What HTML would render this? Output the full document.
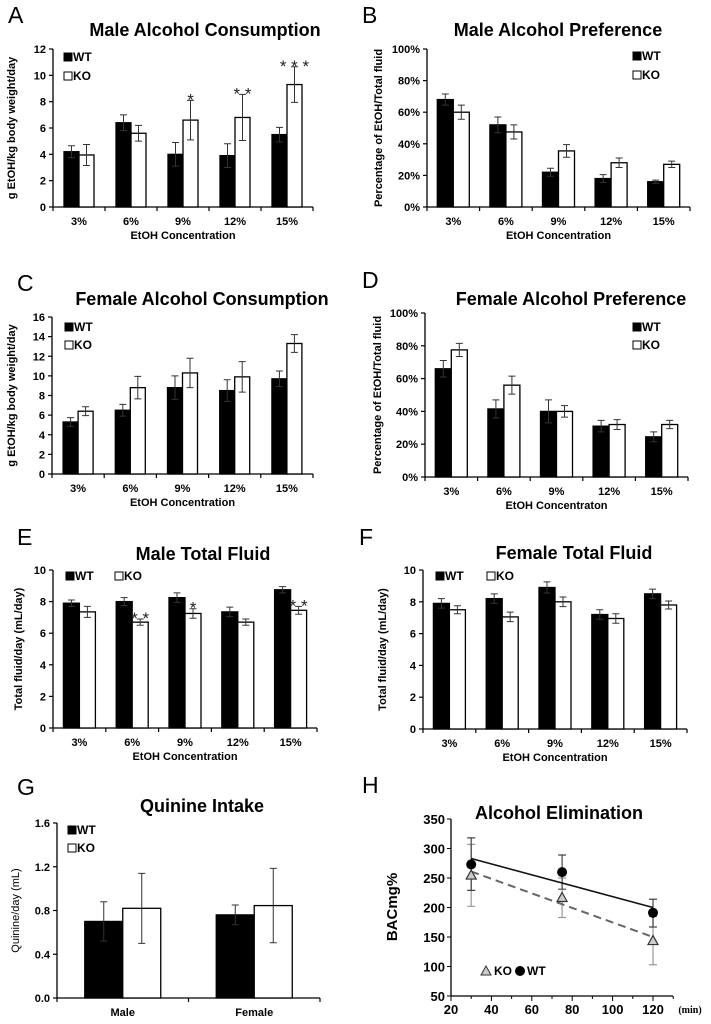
<!DOCTYPE html>
<html><head><meta charset="utf-8"><style>
html,body{margin:0;padding:0;background:#fff;}
svg{display:block;font-family:"Liberation Sans",Arial,sans-serif;}
</style></head><body>
<svg id="fig" width="711" height="1024" viewBox="0 0 711 1024" xmlns="http://www.w3.org/2000/svg"></svg>
<script>
// ---- data ----
const pctCats = ["3%","6%","9%","12%","15%"];
const aWT = [4.2,6.4,4.0,3.9,5.5];
const aKO = [3.95,5.6,6.6,6.8,9.3];
const aWTErr = [0.45,0.6,0.9,0.9,0.55];
const aKOErr = [0.8,0.6,1.5,1.75,1.35];
const aStars = ["","","*","**","***"];
const aTicks = ["0","2","4","6","8","10","12"];

const bWT = [68,52,22,18,16];
const bKO = [60,47.5,35.5,28,27];
const bWTErr = [3.5,5,2.5,2.5,1];
const bKOErr = [4.5,4.5,4,3,2];
const pctTicks = ["0%","20%","40%","60%","80%","100%"];

const cWT = [5.3,6.5,8.8,8.5,9.7];
const cKO = [6.4,8.8,10.3,9.9,13.3];
const cWTErr = [0.45,0.6,1.2,1.1,0.8];
const cKOErr = [0.45,1.15,1.5,1.55,0.9];
const cTicks = ["0","2","4","6","8","10","12","14","16"];

const dWT = [66,41.5,40,31,24.5];
const dKO = [77.5,56,40,32,32];
const dWTErr = [5,5.5,7,3.5,3];
const dKOErr = [4,5.5,3.5,3,2.5];

const eWT = [7.9,8.0,8.25,7.35,8.75];
const eKO = [7.35,6.7,7.25,6.7,7.45];
const eWTErr = [0.2,0.25,0.3,0.3,0.2];
const eKOErr = [0.35,0.2,0.3,0.2,0.25];
const eStars = ["","**","*","","**"];
const fluidTicks = ["0","2","4","6","8","10"];

const fWT = [7.9,8.2,8.9,7.2,8.5];
const fKO = [7.5,7.05,8.0,6.95,7.8];
const fWTErr = [0.3,0.3,0.35,0.3,0.3];
const fKOErr = [0.25,0.3,0.3,0.3,0.25];

const gCats = ["Male","Female"];
const gWT = [0.70,0.76];
const gKO = [0.82,0.845];
const gWTErr = [0.18,0.09];
const gKOErr = [0.32,0.34];
const gTicks = ["0.0","0.4","0.8","1.2","1.6"];

const hTimes = [30,75,120];
const hWT = [273,260,191];
const hKO = [255,217,144];
const hWTLo = [229,231,167];
const hWTHi = [318,289,214];
const hKOLo = [202,183,103];
const hKOHi = [307,250,185];
const hWTFitX = [30,120];
const hWTFitY = [283,200];
const hKOFitX = [30,120];
const hKOFitY = [261,150];
const hXTicks = [20,40,60,80,100,120];
const hYTicks = [50,100,150,200,250,300,350];

// ---- helpers ----
const NS = "http://www.w3.org/2000/svg";
const svg = document.getElementById("fig");
function el(tag, attrs, parent, txt){
  const e = document.createElementNS(NS, tag);
  for (const k in attrs) e.setAttribute(k, attrs[k]);
  if (txt !== undefined) e.textContent = txt;
  (parent||svg).appendChild(e);
  return e;
}
function text(x,y,s,size,opts,parent){
  const o = Object.assign({x:x,y:y,"font-size":size,"text-anchor":"middle","font-weight":"bold",fill:"#000"}, opts||{});
  return el("text", o, parent, s);
}

function barChart(p){
  const g = el("g", {});
  
  
  const n = p.cats.length;
  const ymax = parseFloat(p.ticks[p.ticks.length-1]);
  const ys = v => p.y0 - (v/ymax)*(p.y0-p.y1);
  const gw = (p.x1-p.x0)/n;
  const L = text(p.letterX, p.letterY, p.letter, 23, {"font-weight":"normal","text-anchor":"start"}, g);
  
  
  const T = text(p.titleX, p.titleY, p.title, 18, {}, g);
  
  
  const ya = el("line",{x1:p.x0,y1:p.y1,x2:p.x0,y2:p.y0,stroke:"#000","stroke-width":1.3},g);
  
  
  p.ticks.forEach((t,i)=>{
    const v = parseFloat(t);
    const y = ys(v);
    el("line",{x1:p.x0-4,y1:y,x2:p.x0,y2:y,stroke:"#000","stroke-width":1.2},g);
    const tl = text(p.x0-7, y+4, t, 11, {"text-anchor":"end"}, g);
    
    
  });
  const xa = el("line",{x1:p.x0,y1:p.y0,x2:p.x1,y2:p.y0,stroke:"#000","stroke-width":1.3},g);
  
  
  for(let i=0;i<=n;i++){
    const x = p.x0+gw*i;
    el("line",{x1:x,y1:p.y0,x2:x,y2:p.y0+4,stroke:"#000","stroke-width":1.2},g);
  }
  const yt = text(p.ytX, (p.y0+p.y1)/2, p.ytitle, p.ytSize||11, {transform:`rotate(-90 ${p.ytX} ${(p.y0+p.y1)/2})`, "font-weight":p.ytWeight||"bold"}, g);
  
  
  if (p.xtitle){
    const xt = text((p.x0+p.x1)/2, p.y0+32, p.xtitle, 11, {}, g);
    
    
  }
  const bw = p.barW;
  for(let i=0;i<n;i++){
    const cx = p.x0+gw*(i+0.5);
    const cl = text(cx, p.y0+18, p.cats[i], 11, {}, g);
    
    
    [[p.wt[i],p.wtErr[i],cx-bw,"#000","wt"],[p.ko[i],p.koErr[i],cx,"#fff","ko"]].forEach(([v,e,x,fill,k])=>{
      const r = el("rect",{x:x,y:ys(v),width:bw,height:p.y0-ys(v),fill:fill,stroke:"#000","stroke-width":1.3},g);
      
      
      const bx = x+bw/2;
      const eb = el("path",{d:`M${bx-3.5},${ys(v+e)}H${bx+3.5}M${bx},${ys(v+e)}V${ys(v-e)}M${bx-3.5},${ys(v-e)}H${bx+3.5}`,stroke:"#333","stroke-width":1,fill:"none"},g);
      
      
    });
    if (p.stars && p.stars[i]){
      const st = text(cx+bw/2, ys(p.ko[i]+p.koErr[i])+5, p.stars[i].split("").join(" "), 17, {"font-weight":"normal",fill:"#222"}, g);
      
      
    }
  }
  p.legend.forEach((l,j)=>{
    const lg = el("g",{},g);
    
    
    el("rect",{x:l[0],y:l[1]-8,width:8,height:8,fill:j===0?"#000":"#fff",stroke:"#000","stroke-width":1},lg);
    text(l[0]+9,l[1],l[2],12,{"text-anchor":"start"},lg);
  });
}

barChart({name:"panel-a-male-consumption",letter:"A",letterX:8,letterY:23,title:"Male Alcohol Consumption",titleX:205,titleY:36,
  x0:53,x1:313,y0:207,y1:49,ticks:aTicks,cats:pctCats,wt:aWT,ko:aKO,wtErr:aWTErr,koErr:aKOErr,barW:15,stars:aStars,
  ytitle:"g EtOH/kg body weight/day",ytX:15,xtitle:"EtOH Concentration",legend:[[64,61,"WT"],[64,80,"KO"]]});
barChart({name:"panel-b-male-preference",letter:"B",letterX:362,letterY:23,title:"Male Alcohol Preference",titleX:558,titleY:36,
  x0:427,x1:690,y0:207,y1:49,ticks:pctTicks,cats:pctCats,wt:bWT,ko:bKO,wtErr:bWTErr,koErr:bKOErr,barW:16,
  ytitle:"Percentage of EtOH/Total fluid",ytX:382,xtitle:"EtOH Concentration",legend:[[633,60,"WT"],[633,79,"KO"]]});
barChart({name:"panel-c-female-consumption",letter:"C",letterX:17,letterY:291,title:"Female Alcohol Consumption",titleX:202,titleY:305,
  x0:52,x1:313,y0:474,y1:317,ticks:cTicks,cats:pctCats,wt:cWT,ko:cKO,wtErr:cWTErr,koErr:cKOErr,barW:15,
  ytitle:"g EtOH/kg body weight/day",ytX:15,xtitle:"EtOH Concentration",legend:[[65,331,"WT"],[65,349,"KO"]]});
barChart({name:"panel-d-female-preference",letter:"D",letterX:362,letterY:288,title:"Female Alcohol Preference",titleX:571,titleY:305,
  x0:425,x1:688,y0:477,y1:313,ticks:pctTicks,cats:pctCats,wt:dWT,ko:dKO,wtErr:dWTErr,koErr:dKOErr,barW:16,
  ytitle:"Percentage of EtOH/Total fluid",ytX:381,xtitle:"EtOH Concentraton",legend:[[633,331,"WT"],[633,349,"KO"]]});
barChart({name:"panel-e-male-total-fluid",letter:"E",letterX:17,letterY:545,title:"Male Total Fluid",titleX:203,titleY:560,
  x0:53,x1:317,y0:728,y1:570,ticks:fluidTicks,cats:pctCats,wt:eWT,ko:eKO,wtErr:eWTErr,koErr:eKOErr,barW:16,stars:eStars,
  ytitle:"Total fluid/day  (mL/day)",ytX:22,xtitle:"EtOH Concentration",legend:[[66,580,"WT"],[115,580,"KO"]]});
barChart({name:"panel-f-female-total-fluid",letter:"F",letterX:359,letterY:545,title:"Female Total Fluid",titleX:574,titleY:559,
  x0:423,x1:687,y0:729,y1:570,ticks:fluidTicks,cats:pctCats,wt:fWT,ko:fKO,wtErr:fWTErr,koErr:fKOErr,barW:16,
  ytitle:"Total fluid/day  (mL/day)",ytX:386,xtitle:"EtOH Concentration",legend:[[436,580,"WT"],[487,580,"KO"]]});
barChart({name:"panel-g-quinine-intake",letter:"G",letterX:17,letterY:795,title:"Quinine Intake",titleX:202,titleY:812,
  x0:57,x1:320,y0:998,y1:823,ticks:gTicks,cats:gCats,wt:gWT,ko:gKO,wtErr:gWTErr,koErr:gKOErr,barW:38,
  ytitle:"Quinine/day (mL)",ytX:19,ytWeight:"normal",legend:[[68,834,"WT"],[68,852,"KO"]]});

// ---- panel H ----
(function(){
  const g = el("g",{});
  
  
  const X0=451, X1=673, Y0=996, Y1=819;
  const xs = v => X0 + (v-20)*(653-451)/100;
  const ys = v => Y0 - (v-50)*(Y0-Y1)/300;
  const L = text(362,793,"H",23,{"font-weight":"normal","text-anchor":"start"},g);
  
  
  const T = text(559,819,"Alcohol Elimination",18,{},g);
  
  
  const ya = el("line",{x1:X0,y1:Y1,x2:X0,y2:Y0,stroke:"#000","stroke-width":1.3},g);
  
  
  const xa = el("line",{x1:X0,y1:Y0,x2:X1,y2:Y0,stroke:"#000","stroke-width":1.3},g);
  
  
  hYTicks.forEach(v=>{
    el("line",{x1:X0-4,y1:ys(v),x2:X0,y2:ys(v),stroke:"#000"},g);
    const t = text(X0-6,ys(v)+5,String(v),13,{"text-anchor":"end"},g);
    
    
  });
  for(let v=20; v<=130; v+=10){
    el("line",{x1:xs(v),y1:Y0,x2:xs(v),y2:Y0+(v%20===0?5:3),stroke:"#000"},g);
  }
  hXTicks.forEach(v=>{
    const t = text(xs(v),Y0+18,String(v),13,{},g);
    
    
  });
  const mu = text(690,1013,"(min)",10,{"font-family":"Liberation Serif, serif"},g);
  
  
  const yt = text(397,907,"BACmg%",15,{transform:"rotate(-90 397 907)"},g);
  
  
  hTimes.forEach((t,i)=>{
    const x = xs(t);
    const e1 = el("path",{d:`M${x-4},${ys(hKOHi[i])}H${x+4}M${x},${ys(hKOHi[i])}V${ys(hKOLo[i])}M${x-4},${ys(hKOLo[i])}H${x+4}`,stroke:"#999","stroke-width":1.2,fill:"none"},g);
    
    
    const e2 = el("path",{d:`M${x-4},${ys(hWTHi[i])}H${x+4}M${x},${ys(hWTHi[i])}V${ys(hWTLo[i])}M${x-4},${ys(hWTLo[i])}H${x+4}`,stroke:"#444","stroke-width":1.2,fill:"none"},g);
    
    
  });
  const lw = el("line",{x1:xs(hWTFitX[0]),y1:ys(hWTFitY[0]),x2:xs(hWTFitX[1]),y2:ys(hWTFitY[1]),stroke:"#111","stroke-width":1.6},g);
  
  
  const lk = el("line",{x1:xs(hKOFitX[0]),y1:ys(hKOFitY[0]),x2:xs(hKOFitX[1]),y2:ys(hKOFitY[1]),stroke:"#666","stroke-width":2,"stroke-dasharray":"8,5"},g);
  
  
  hTimes.forEach((t,i)=>{
    const x = xs(t), y = ys(hKO[i]);
    const tri = el("polygon",{points:`${x},${y-5} ${x-5},${y+4} ${x+5},${y+4}`,fill:"#ccc",stroke:"#333","stroke-width":1.2},g);
    
    
    const c = el("circle",{cx:x,cy:ys(hWT[i]),r:5,fill:"#000"},g);
    
    
  });
  const lg = el("g",{},g);
  
  
  el("polygon",{points:"486,966 481,975 491,975",fill:"#ccc",stroke:"#333"},lg);
  text(494,975,"KO",12,{"text-anchor":"start"},lg);
  el("circle",{cx:520,cy:971,r:5,fill:"#000"},lg);
  text(527,975,"WT",12,{"text-anchor":"start"},lg);
})();
</script>
</body></html>
